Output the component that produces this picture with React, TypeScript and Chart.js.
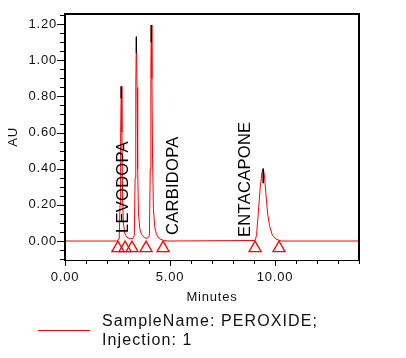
import { useEffect, useRef } from 'react';
import { Chart, registerables } from 'chart.js';

Chart.register(...registerables);

// Chromatogram trace (minutes, AU)
const traceTime = [
  0, 2.45, 2.58, 2.62, 2.65, 2.68, 2.71, 2.74, 2.78, 2.85, 2.95, 3.1, 3.25,
  3.3, 3.34, 3.37, 3.4, 3.43, 3.46, 3.5, 3.56, 3.65, 3.78, 3.92,
  4.02, 4.06, 4.09, 4.11, 4.14, 4.17, 4.21, 4.27, 4.36, 4.5, 4.7, 4.9,
  9.05, 9.12, 9.2, 9.3, 9.38, 9.44, 9.5, 9.56, 9.65, 9.75, 9.88, 10.05, 10.3, 14,
];
const traceAU = [
  0, 0, 0.01, 0.2, 0.6, 0.855, 0.6, 0.25, 0.1, 0.04, 0.02, 0.012, 0.015,
  0.03, 0.35, 0.85, 1.13, 0.85, 0.4, 0.15, 0.07, 0.035, 0.018, 0.015,
  0.03, 0.4, 0.95, 1.195, 0.9, 0.45, 0.18, 0.08, 0.035, 0.012, 0.003, 0,
  0.003, 0.03, 0.15, 0.3, 0.38, 0.4, 0.36, 0.27, 0.15, 0.08, 0.03, 0.01, 0, 0,
];

// Peak apexes (black tips)
const apexTime = [2.68, 3.4, 4.11, 9.44];
const apexAU = [0.855, 1.13, 1.195, 0.4];
const apexTipBottomAU = [0.79, 1.04, 1.1, 0.32];

// Peak start/stop markers (triangles)
const markerTime = [2.52, 2.86, 3.19, 3.86, 4.67, 9.05, 10.19];
const markerAU = [-0.039, -0.039, -0.039, -0.039, -0.039, -0.039, -0.039];

// Peak name labels
const peakNames = ['LEVODOPA', 'CARBIDOPA', 'ENTACAPONE'];
const labelTime = [2.79, 5.18, 8.6];
const labelAU = [0.044, 0.033, 0.022];

// Axes
const xMin = 0;
const xMax = 14;
const xStep = 1;
const xLabelEvery = 5;
const yMin = -0.105;
const yMax = 1.256;
const yStep = 0.05;
const yLabelEvery = 0.2;
const xTitle = 'Minutes';
const yTitle = 'AU';

// Legend
const legendLines = ['SampleName: PEROXIDE;', 'Injection: 1'];

const FONT = "'Liberation Sans', Arial, sans-serif";
const TEXT = '#111';
const RED = '#ff0000';

const isMultiple = (v: number, m: number) => Math.abs(v / m - Math.round(v / m)) < 1e-6;

const decor = {
  id: 'decor',
  beforeDraw(chart: any) {
    chart.ctx.letterSpacing = '0.8px';
  },
  afterDraw(chart: any) {
    const { ctx, chartArea: a } = chart;
    const x = chart.scales.x;
    const y = chart.scales.y;
    ctx.save();
    ctx.letterSpacing = '0px';
    ctx.fillStyle = '#000';
    // frame
    ctx.fillRect(a.left - 1, a.top - 1, a.right - a.left + 2, 2);
    ctx.fillRect(a.left - 1, a.top - 1, 2, a.bottom - a.top + 2);
    ctx.fillRect(a.right - 1, a.top - 1, 2, a.bottom - a.top + 2);
    ctx.fillRect(a.left - 1, a.bottom, a.right - a.left + 2, 1);
    // x ticks
    x.ticks.forEach((t: any) => {
      const px = Math.round(x.getPixelForValue(t.value));
      const len = isMultiple(t.value, xLabelEvery) ? 6 : 4;
      ctx.fillRect(px, a.bottom, 1, len);
    });
    // y ticks
    y.ticks.forEach((t: any) => {
      const py = Math.round(y.getPixelForValue(t.value));
      const len = isMultiple(t.value, yLabelEvery) ? 8 : 5;
      ctx.fillRect(a.left - len, py, len, 1);
    });
    // peak labels
    ctx.fillStyle = '#000';
    ctx.font = `16.5px ${FONT}`;
    ctx.letterSpacing = '0.3px';
    ctx.textAlign = 'left';
    ctx.textBaseline = 'middle';
    peakNames.forEach((n, i) => {
      const px = x.getPixelForValue(labelTime[i]);
      const py = y.getPixelForValue(labelAU[i]);
      ctx.save();
      ctx.translate(px, py);
      ctx.rotate(-Math.PI / 2);
      ctx.fillText(n, 0, 0);
      ctx.restore();
    });
    // legend
    ctx.strokeStyle = RED;
    ctx.lineWidth = 1;
    ctx.beginPath();
    ctx.moveTo(38, 330.5);
    ctx.lineTo(90, 330.5);
    ctx.stroke();
    ctx.fillStyle = TEXT;
    ctx.font = `16px ${FONT}`;
    ctx.letterSpacing = '1.1px';
    ctx.fillText(legendLines[0], 102, 322);
    ctx.fillText(legendLines[1], 102, 341);
    ctx.restore();
  },
};

export default function App() {
  const ref = useRef<HTMLCanvasElement>(null);
  useEffect(() => {
    if (!ref.current) return;
    const tips: any[] = [];
    apexTime.forEach((t, i) => {
      tips.push({ x: t, y: apexAU[i] });
      tips.push({ x: t, y: apexTipBottomAU[i] });
      tips.push({ x: t, y: null });
    });
    const chart = new Chart(ref.current, {
      type: 'line',
      data: {
        datasets: [
          {
            label: 'tips',
            data: tips,
            borderColor: '#000',
            borderWidth: 1,
            pointRadius: 0,
            spanGaps: false,
          },
          {
            label: 'trace',
            data: traceTime.map((t, i) => ({ x: t, y: traceAU[i] })),
            borderColor: RED,
            borderWidth: 1,
            pointRadius: 0,
            tension: 0,
          },
          {
            label: 'markers',
            type: 'scatter',
            data: markerTime.map((t, i) => ({ x: t, y: markerAU[i] })),
            showLine: false,
            borderColor: RED,
            backgroundColor: 'rgba(255,255,255,0)',
            pointStyle: 'triangle',
            pointRadius: 7,
            pointBorderColor: RED,
            pointBackgroundColor: 'rgba(255,255,255,0)',
            pointBorderWidth: 1.3,
          } as any,
        ],
      },
      options: {
        responsive: false,
        devicePixelRatio: 1,
        animation: false,
        layout: { padding: { left: 0, top: 14, right: 47, bottom: 52 } },
        plugins: { legend: { display: false }, tooltip: { enabled: false } },
        scales: {
          x: {
            type: 'linear',
            min: xMin,
            max: xMax,
            afterFit: (s: any) => { s.height = 46; },
            grid: { display: false, drawTicks: true, tickLength: 6 },
            border: { display: false },
            ticks: {
              stepSize: xStep,
              autoSkip: false,
              maxRotation: 0,
              padding: 4,
              color: TEXT,
              font: { family: FONT, size: 13 },
              callback: (v: any) => (isMultiple(Number(v), xLabelEvery) ? Number(v).toFixed(2) : ''),
            },
            title: {
              display: true,
              text: xTitle,
              color: TEXT,
              font: { family: FONT, size: 13 },
              padding: { top: 0, bottom: 1 },
            },
          },
          y: {
            type: 'linear',
            min: yMin,
            max: yMax,
            afterFit: (s: any) => { s.width = 65; },
            grid: { display: false, drawTicks: true, tickLength: 8 },
            border: { display: false },
            ticks: {
              stepSize: yStep,
              includeBounds: false,
              autoSkip: false,
              padding: 0,
              color: TEXT,
              font: { family: FONT, size: 13 },
              callback: (v: any) => (isMultiple(Number(v), yLabelEvery) ? Number(v).toFixed(2) : ''),
            },
            title: {
              display: true,
              text: yTitle,
              color: TEXT,
              font: { family: FONT, size: 13 },
              padding: { top: 6, bottom: 0 },
            },
          },
        },
      } as any,
      plugins: [decor],
    });
    return () => chart.destroy();
  }, []);
  return (
    <div style={{ position: 'absolute', left: 0, top: 0, width: 406, height: 358, background: '#fff' }}>
      <canvas ref={ref} width={406} height={358} style={{ display: 'block' }} />
    </div>
  );
}
